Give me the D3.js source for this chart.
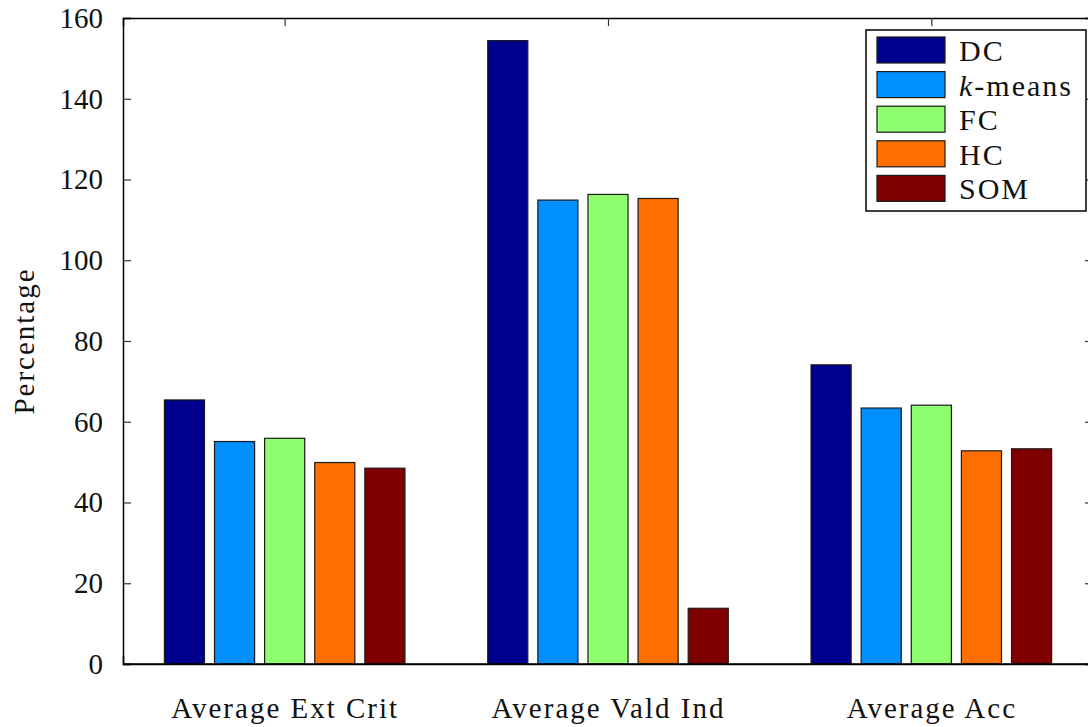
<!DOCTYPE html>
<html>
<head>
<meta charset="utf-8">
<script src="https://cdn.jsdelivr.net/npm/d3@7"></script>
<style>
  html, body { margin: 0; padding: 0; background: #fff; }
  svg text { font-family: "Liberation Serif", "DejaVu Serif", serif; fill: #111; }
</style>
</head>
<body>
<svg id="chart" width="1088" height="727"></svg>
<script>
// Categories and series
const categories = ["Average Ext Crit", "Average Vald Ind", "Average Acc"];
const seriesNames = ["DC", "k-means", "FC", "HC", "SOM"];
const seriesColors = ["#00008f", "#008fff", "#8fff6f", "#ff7000", "#800000"];
const valuesDC     = [65.4, 154.4, 74.1];
const valuesKMeans = [55.1, 114.9, 63.4];
const valuesFC     = [55.9, 116.3, 64.1];
const valuesHC     = [49.9, 115.3, 52.8];
const valuesSOM    = [48.5, 13.8, 53.3];
const yTicks = [0, 20, 40, 60, 80, 100, 120, 140, 160];

const series = [valuesDC, valuesKMeans, valuesFC, valuesHC, valuesSOM];

const svg = d3.select("#chart");
const plotLeft = 123, plotRight = 1093, plotTop = 18, plotBottom = 664;

// Categories sit at 1, 2, 3 on a continuous axis
const x = d3.scaleLinear().domain([0.5, categories.length + 0.5]).range([plotLeft, plotRight]);
const y = d3.scaleLinear().domain([0, 160]).range([plotBottom, plotTop]);

const pitch = 0.155, barW = 0.124;
const offset = i => (i - (seriesNames.length - 1) / 2) * pitch;
const fontStack = '"Liberation Serif", "DejaVu Serif", serif';

// Axes
const tickLen = 8;
function styleAxis(g) {
  g.select(".domain").attr("stroke", "#000").attr("stroke-width", 1.5);
  g.selectAll(".tick line").attr("stroke", "#333").attr("stroke-width", 1.2);
  g.selectAll(".tick text").style("font-size", "29px").attr("fill", "#111")
    .style("font-family", fontStack);
}

svg.append("g").attr("transform", `translate(${plotLeft},0)`)
  .call(d3.axisLeft(y).tickValues(yTicks).tickSize(-tickLen).tickPadding(20))
  .call(styleAxis);

svg.append("g").attr("transform", `translate(${plotRight},0)`)
  .call(d3.axisRight(y).tickValues(yTicks).tickSize(-tickLen).tickFormat(""))
  .call(styleAxis);

svg.append("g").attr("transform", `translate(0,${plotBottom})`)
  .call(d3.axisBottom(x).tickValues([1, 2, 3]).tickSize(-tickLen)
    .tickFormat(d => categories[d - 1]).tickPadding(33))
  .call(styleAxis)
  .call(g => g.selectAll(".tick text").style("letter-spacing", "2px"));

svg.append("g").attr("transform", `translate(0,${plotTop})`)
  .call(d3.axisTop(x).tickValues([1, 2, 3]).tickSize(-tickLen).tickFormat(""))
  .call(styleAxis);

// Bars
series.forEach((vals, si) => {
  svg.append("g").selectAll("rect")
    .data(vals)
    .join("rect")
    .attr("x", (d, ci) => x(ci + 1 + offset(si) - barW / 2))
    .attr("width", x(barW) - x(0))
    .attr("y", d => y(d))
    .attr("height", d => y(0) - y(d))
    .attr("fill", seriesColors[si])
    .attr("stroke", "#1a1a1a")
    .attr("stroke-width", 1.2);
});

// Baseline over the bar bottoms
svg.append("line")
  .attr("x1", plotLeft).attr("x2", plotRight)
  .attr("y1", y(0)).attr("y2", y(0))
  .attr("stroke", "#000").attr("stroke-width", 1.5);

// Y axis title
svg.append("text")
  .attr("transform", `translate(34,${(plotTop + plotBottom) / 2}) rotate(-90)`)
  .attr("text-anchor", "middle")
  .style("font-size", "29px")
  .style("letter-spacing", "2px")
  .text("Percentage");

// Legend
const lg = svg.append("g").attr("transform", "translate(866,30)");
lg.append("rect").attr("x", 0).attr("y", 0).attr("width", 220).attr("height", 181)
  .attr("fill", "#fff").attr("stroke", "#000").attr("stroke-width", 1.5);
seriesNames.forEach((name, i) => {
  const row = lg.append("g").attr("transform", `translate(11,${7 + i * 34.6})`);
  row.append("rect").attr("width", 68).attr("height", 26)
    .attr("fill", seriesColors[i]).attr("stroke", "#1a1a1a").attr("stroke-width", 1.2);
  const t = row.append("text").attr("x", 82).attr("y", 24)
    .style("font-size", "30px").style("letter-spacing", "2px");
  if (name === "k-means") {
    t.append("tspan").style("font-style", "italic").text("k");
    t.append("tspan").text("-means");
  } else {
    t.text(name);
  }
});
</script>
</body>
</html>
